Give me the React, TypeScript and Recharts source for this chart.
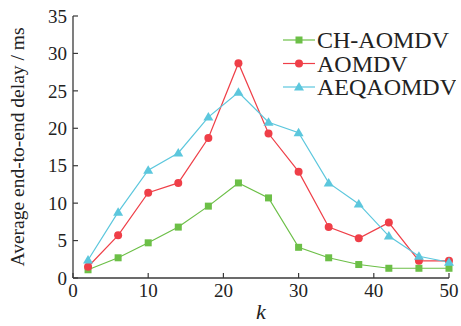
import { LineChart, Line, XAxis, YAxis, Legend } from "recharts"

const kValues = [2, 6, 10, 14, 18, 22, 26, 30, 34, 38, 42, 46, 50]
const chAomdv = [1.1, 2.7, 4.7, 6.8, 9.6, 12.7, 10.7, 4.1, 2.7, 1.8, 1.3, 1.3, 1.3]
const aomdv = [1.5, 5.7, 11.4, 12.7, 18.7, 28.7, 19.3, 14.2, 6.8, 5.3, 7.4, 2.3, 2.3]
const aeqaomdv = [2.4, 8.8, 14.4, 16.7, 21.5, 24.8, 20.8, 19.4, 12.7, 9.9, 5.6, 2.9, 2.1]
const xTicks = [0, 10, 20, 30, 40, 50]
const yTicks = [0, 5, 10, 15, 20, 25, 30, 35]

const GREEN = "#6cbf47"
const RED = "#ef3f48"
const CYAN = "#5cc7dd"
const FRAME = "#3a3a3a"
const FONT = "'Liberation Serif', 'Times New Roman', serif"

const data = kValues.map((k, i) => ({
  k,
  ch: chAomdv[i],
  aomdv: aomdv[i],
  aeq: aeqaomdv[i],
}))

const series = [
  { key: "ch", name: "CH-AOMDV", color: GREEN, shape: "square" },
  { key: "aomdv", name: "AOMDV", color: RED, shape: "circle" },
  { key: "aeq", name: "AEQAOMDV", color: CYAN, shape: "triangle" },
]

function Marker({ cx, cy, shape, color }: { cx: number; cy: number; shape: string; color: string }) {
  if (shape === "square") return <rect x={cx - 3.5} y={cy - 3.5} width={7} height={7} fill={color} />
  if (shape === "circle") return <circle cx={cx} cy={cy} r={4} fill={color} />
  return <polygon points={`${cx},${cy - 5} ${cx + 5},${cy + 3.5} ${cx - 5},${cy + 3.5}`} fill={color} />
}

const makeDot = (shape: string, color: string) => (props: any) => (
  <Marker key={`${shape}-${props.index}`} cx={props.cx} cy={props.cy} shape={shape} color={color} />
)

// ticks point inward from the axis line
const YTick = ({ x, y, payload }: any) => (
  <g>
    <text x={x} y={y} dy="0.35em" textAnchor="end" fontSize={19} fill="#222" fontFamily={FONT}>
      {payload.value}
    </text>
    <line x1={x + 6} x2={x + 11} y1={y} y2={y} stroke={FRAME} strokeWidth={1.2} />
  </g>
)

const XTick = ({ x, y, payload }: any) => (
  <g>
    <text x={x} y={y} dy="0.75em" textAnchor="middle" fontSize={19} fill="#222" fontFamily={FONT}>
      {payload.value}
    </text>
    <line x1={x} x2={x} y1={y - 5} y2={y - 10} stroke={FRAME} strokeWidth={1.2} />
  </g>
)

const LegendBox = () => (
  <svg width={175} height={80}>
    {series.map((s, i) => {
      const y = 12 + i * 23.5
      return (
        <g key={s.key}>
          <line x1={2} x2={34} y1={y} y2={y} stroke={s.color} strokeWidth={1.2} />
          <Marker cx={18} cy={y} shape={s.shape} color={s.color} />
          <text x={36} y={y} dy="0.35em" fontSize={24} fill="#222" fontFamily={FONT}>
            {s.name}
          </text>
        </g>
      )
    })}
  </svg>
)

export default function App() {
  return (
    <div style={{ position: "absolute", left: 0, top: 0, background: "#fff" }}>
      <LineChart width={461} height={326} data={data} margin={{ top: 16, right: 12, left: 0, bottom: 0 }}>
        <XAxis
          dataKey="k"
          type="number"
          domain={[0, 50]}
          ticks={xTicks}
          height={48}
          tickSize={0}
          tickMargin={5}
          tickLine={false}
          tick={<XTick />}
          axisLine={{ stroke: FRAME, strokeWidth: 1.3 }}
          label={{ value: "k", position: "insideBottom", offset: 7, fontSize: 22, fontStyle: "italic", fill: "#222", fontFamily: FONT }}
        />
        <XAxis xAxisId="top" dataKey="k" type="number" domain={[0, 50]} orientation="top" height={0} tick={false} tickLine={false} axisLine={{ stroke: FRAME, strokeWidth: 1.3 }} />
        <YAxis
          domain={[0, 35]}
          ticks={yTicks}
          width={73}
          tickSize={0}
          tickMargin={6}
          tickLine={false}
          tick={<YTick />}
          axisLine={{ stroke: FRAME, strokeWidth: 1.3 }}
          label={{ value: "Average end-to-end delay / ms", angle: -90, position: "insideLeft", offset: 17, fontSize: 19.5, fill: "#222", fontFamily: FONT, style: { textAnchor: "middle" } }}
        />
        <YAxis yAxisId="right" orientation="right" width={0} domain={[0, 35]} tick={false} tickLine={false} axisLine={{ stroke: FRAME, strokeWidth: 1.3 }} />
        <Legend layout="vertical" align="center" verticalAlign="middle" content={<LegendBox />} wrapperStyle={{ left: 281, top: 28, width: 175 }} />
        {series.map((s) => (
          <Line
            key={s.key}
            dataKey={s.key}
            name={s.name}
            stroke={s.color}
            strokeWidth={1.2}
            dot={makeDot(s.shape, s.color)}
            activeDot={false}
            isAnimationActive={false}
          />
        ))}
      </LineChart>
    </div>
  )
}
